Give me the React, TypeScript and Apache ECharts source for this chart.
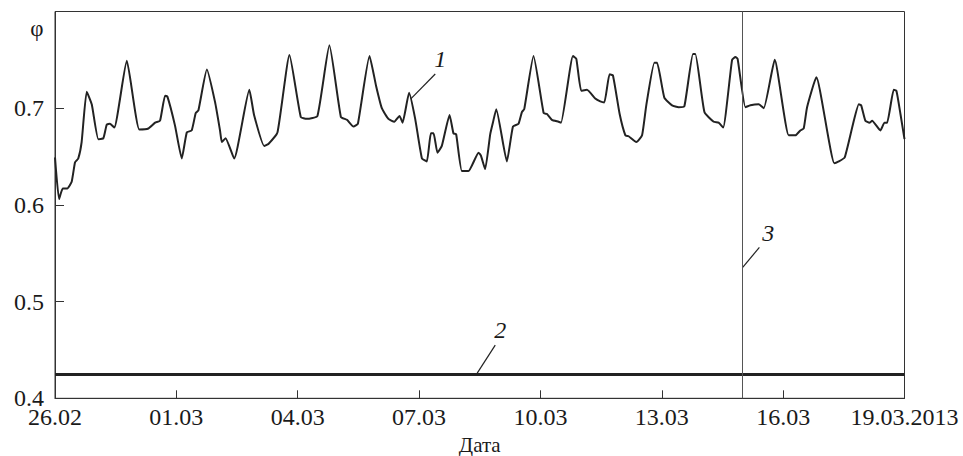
import React, { useEffect, useRef } from "react";
import * as echarts from "echarts";

// Hours elapsed since 26.02.2013 00:00
const hours = [
  0, 2.4, 4.6, 7.3, 9.9, 11.9, 13.8, 15.8, 18.8, 21.8,
  25.7, 28.7, 30.7, 32.6, 35.2, 42.6, 50.0, 55.4, 59.4, 62.3,
  65.3, 66.7, 71.2, 75.2, 78.2, 81.1, 83.5, 85.1, 90.1, 95.0,
  97.9, 99.0, 101.2, 106.3, 115.3, 118.1, 124.1, 126.6, 132.0, 139.1,
  145.8, 149.4, 155.7, 162.8, 169.6, 173.2, 177.1, 179.7, 186.6, 190.5,
  193.9, 197.8, 201.3, 204.4, 206.2, 210.1, 213.7, 217.7, 220.6, 223.0,
  224.6, 226.9, 229.5, 234.1, 236.4, 238.0, 241.4, 245.3, 251.3, 252.7,
  255.2, 258.2, 259.8, 261.8, 268.1, 271.7, 275.0, 277.0, 278.4, 283.9,
  289.9, 291.9, 294.8, 298.8, 300.2, 307.3, 309.3, 312.2, 315.6, 320.5,
  323.5, 325.9, 329.0, 331.0, 335.0, 338.4, 340.3, 344.9, 348.3, 350.8,
  355.6, 357.2, 361.5, 366.1, 370.0, 373.4, 378.5, 379.9, 385.3, 390.8,
  393.7, 396.4, 401.7, 403.7, 405.0, 409.6, 412.6, 417.5, 420.5, 427.0,
  435.3, 439.3, 442.2, 444.2, 446.2, 451.7, 462.4, 465.0, 468.5, 473.5,
  476.9, 478.3, 480.8, 483.2, 484.8, 489.7, 492.1, 493.7, 497.6, 499.2,
  501.6, 504,
];

// Curve 1: φ
const phi = [
  0.649, 0.606, 0.617, 0.617, 0.624, 0.644, 0.648, 0.665, 0.717, 0.704,
  0.668, 0.669, 0.683, 0.684, 0.680, 0.749, 0.678, 0.679, 0.685, 0.687,
  0.713, 0.712, 0.682, 0.648, 0.675, 0.677, 0.695, 0.698, 0.740, 0.706,
  0.677, 0.665, 0.669, 0.648, 0.719, 0.693, 0.661, 0.663, 0.675, 0.755,
  0.691, 0.689, 0.692, 0.765, 0.691, 0.688, 0.681, 0.684, 0.754, 0.723,
  0.700, 0.689, 0.686, 0.692, 0.685, 0.716, 0.689, 0.648, 0.645, 0.674,
  0.674, 0.654, 0.661, 0.693, 0.674, 0.673, 0.635, 0.635, 0.654, 0.651,
  0.637, 0.673, 0.685, 0.699, 0.645, 0.681, 0.684, 0.696, 0.699, 0.754,
  0.695, 0.694, 0.688, 0.686, 0.685, 0.754, 0.751, 0.718, 0.719, 0.710,
  0.707, 0.706, 0.735, 0.734, 0.694, 0.672, 0.671, 0.665, 0.672, 0.703,
  0.747, 0.747, 0.711, 0.703, 0.701, 0.702, 0.756, 0.756, 0.696, 0.686,
  0.685, 0.680, 0.750, 0.753, 0.751, 0.701, 0.703, 0.704, 0.700, 0.750,
  0.672, 0.672, 0.677, 0.679, 0.701, 0.732, 0.643, 0.645, 0.649, 0.684,
  0.704, 0.703, 0.687, 0.685, 0.687, 0.677, 0.685, 0.685, 0.719, 0.718,
  0.694, 0.668,
];

// Line 2: constant level; Line 3: vertical marker (15.03 00:00)
const thresholdLevel = 0.425;
const markerHour = 408;

const xTickLabels = ["26.02", "01.03", "04.03", "07.03", "10.03", "13.03", "16.03", "19.03.2013"];
const yTickLabels = ["0.4", "0.5", "0.6", "0.7", ""];

// Annotation anchors in data space: [lineStart, lineEnd, textPos]
const annotationTexts = ["1", "2", "3"];
const annotationAnchors = [
  [[211.1, 0.7096], [225.6, 0.7354], [228.5, 0.7509]],
  [[250.5, 0.426], [261.2, 0.455], [264.2, 0.4705]],
  [[408, 0.5355], [417.9, 0.556], [423.2, 0.5706]],
];

const FONT = "'Liberation Serif', 'DejaVu Serif', serif";
const INK = "#1a1a1a";
const AXIS = "#333";

export default function App() {
  const ref = useRef<HTMLDivElement>(null);

  useEffect(() => {
    if (!ref.current) return;
    const chart = echarts.init(ref.current, undefined, { renderer: "svg" });
    const option: any = {
      animation: false,
      backgroundColor: "#fff",
      grid: {
        left: 55,
        right: 58.5,
        top: 11.5,
        bottom: 57.7,
        show: true,
        borderColor: AXIS,
        borderWidth: 1,
        containLabel: false,
        outerBoundsMode: "none",
      },
      xAxis: {
        type: "value",
        min: 0,
        max: 504,
        interval: 72,
        axisLine: { show: true, lineStyle: { color: AXIS, width: 1 } },
        axisTick: { show: true, inside: true, length: 8, lineStyle: { color: AXIS, width: 1 } },
        axisLabel: {
          formatter: (v: number) => xTickLabels[Math.round(v / 72)] ?? "",
          fontFamily: FONT,
          fontSize: 24,
          lineHeight: 18,
          color: INK,
          margin: 10,
        },
        splitLine: { show: false },
        name: "Дата",
        nameLocation: "middle",
        nameGap: 33,
        nameTextStyle: { fontFamily: FONT, fontSize: 21, lineHeight: 16, color: INK },
      },
      yAxis: {
        type: "value",
        min: 0.4,
        max: 0.8,
        interval: 0.1,
        axisLine: { show: true, lineStyle: { color: AXIS, width: 1 } },
        axisTick: { show: true, inside: true, length: 9, lineStyle: { color: AXIS, width: 1 } },
        axisLabel: {
          formatter: (v: number) => yTickLabels[Math.round((v - 0.4) / 0.1)] ?? "",
          fontFamily: FONT,
          fontSize: 24,
          lineHeight: 18,
          color: INK,
          margin: 11,
        },
        splitLine: { show: false },
      },
      series: [
        {
          type: "line",
          data: hours.map((h, i) => [h, phi[i]]),
          showSymbol: false,
          smooth: 0.15,
          lineStyle: { color: "#222", width: 2 },
          markLine: {
            symbol: "none",
            silent: true,
            precision: 4,
            label: { show: false },
            data: [
              { yAxis: thresholdLevel, lineStyle: { color: "#222", width: 3, type: "solid" } },
              { xAxis: markerHour, lineStyle: { color: "#555", width: 1, type: "solid" } },
            ],
          },
        },
      ],
    };
    chart.setOption(option);

    const toPx = (p: number[]) => chart.convertToPixel({ gridIndex: 0 }, p) as number[];
    const graphics: any[] = [];
    annotationAnchors.forEach((a, i) => {
      const p0 = toPx(a[0]);
      const p1 = toPx(a[1]);
      const pt = toPx(a[2]);
      graphics.push({
        type: "line",
        shape: { x1: p0[0], y1: p0[1], x2: p1[0], y2: p1[1] },
        style: { stroke: "#222", lineWidth: 1.2 },
        silent: true,
      });
      graphics.push({
        type: "text",
        x: pt[0],
        y: pt[1],
        style: {
          text: annotationTexts[i],
          fontFamily: FONT,
          fontStyle: "italic",
          fontSize: 24,
          fill: INK,
          align: "center",
          verticalAlign: "middle",
        },
        silent: true,
      });
    });
    const phiPos = toPx([0, 0.782]);
    graphics.push({
      type: "text",
      x: phiPos[0] - 18,
      y: phiPos[1],
      style: {
        text: "φ",
        fontFamily: FONT,
        fontSize: 23,
        fill: INK,
        align: "center",
        verticalAlign: "middle",
      },
      silent: true,
    });
    chart.setOption({ graphic: graphics });

    return () => chart.dispose();
  }, []);

  return (
    <div
      ref={ref}
      style={{ position: "fixed", left: 0, top: 0, width: 963, height: 456 }}
    />
  );
}
